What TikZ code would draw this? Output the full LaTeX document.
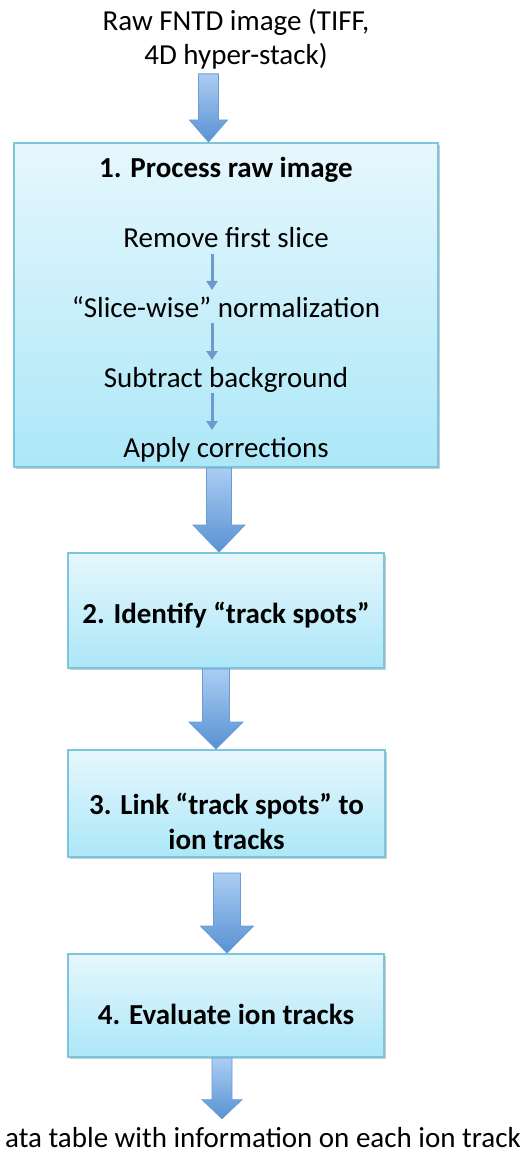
\documentclass[tikz,border=0pt]{standalone}
\usepackage{fontspec}
\setmainfont{Carlito}
\usetikzlibrary{arrows.meta,calc,shadows}

\definecolor{boxtop}{HTML}{E6F7FD}
\definecolor{boxbot}{HTML}{ACE7F8}
\definecolor{boxline}{HTML}{7CC6DB}
\definecolor{arrowtop}{HTML}{ABCDF3}
\definecolor{arrowbot}{HTML}{5892D3}
\definecolor{arrowline}{HTML}{6A9BD5}
\definecolor{smallblue}{HTML}{6E99CC}

\newcommand{\fatarrow}[5]{%
\shade[top color=arrowtop,bottom color=arrowbot,draw=arrowline,line width=.8pt]
let \p1=(#1),\p2=(#2) in
(\x1-#3,\y1) -- (\x1+#3,\y1) -- (\x1+#3,\y2+#5) -- (\x1+#4,\y2+#5) -- (\x1,\y2)
-- (\x1-#4,\y2+#5) -- (\x1-#3,\y2+#5) -- cycle;}

\begin{document}
\begin{tikzpicture}[x=1pt,y=-1pt,
every node/.style={font=\fontsize{29}{34}\selectfont,inner sep=0pt},
bold/.style={font=\fontsize{29}{35}\selectfont\bfseries},
stepbox/.style={draw=boxline,line width=2pt,top color=boxtop,bottom color=boxbot,
drop shadow={shadow xshift=1.5pt,shadow yshift=-2pt,opacity=.2,fill=black}},
thin arrow/.style={draw=smallblue,line width=3pt,-{Triangle[width=11pt,length=9pt]}}]
\useasboundingbox (0,0) rectangle (524,1155);

\node[anchor=base,align=center] (T) at (236,65) {Raw FNTD image (TIFF,\\4D hyper-stack)};

\node[stepbox,minimum width=424pt,minimum height=324pt] (B1) at (226,305) {};
\node[stepbox,minimum width=316pt,minimum height=115pt] (B2) at (226,610.5) {};
\node[stepbox,minimum width=317pt,minimum height=107pt] (B3) at (226.5,803.5) {};
\node[stepbox,minimum width=316pt,minimum height=103pt] (B4) at (226,1005.5) {};

\node[bold,anchor=base] (h1) at (226,178) {1. Process raw image};
\node[anchor=base] (r1) at (226,248) {Remove first slice};
\node[anchor=base] (r2) at (226,317) {“Slice-wise” normalization};
\node[anchor=base] (r3) at (226,387) {Subtract background};
\node[anchor=base] (r4) at (226,457) {Apply corrections};
\node[bold,anchor=base] (t2) at (226,623) {2. Identify “track spots”};
\node[bold,anchor=base,align=center] (t3) at (226.5,849) {3. Link “track spots” to\\ion tracks};
\node[bold,anchor=base] (t4) at (226,1024) {4. Evaluate ion tracks};
\node[anchor=base east] (D) at (521,1147) {ata table with information on each ion track};

\foreach \a/\b in {r1/r2,r2/r3,r3/r4}
\draw[thin arrow] ([xshift=-14pt,yshift=-6pt]\a.base) -- ([xshift=-14pt,yshift=27pt]\b.base);

\fatarrow{$(T.south)+(-27.5,4)$}{B1.north}{10pt}{19pt}{22pt}
\fatarrow{$(B1.south)+(-7,0)$}{B2.north}{12.5pt}{26pt}{27pt}
\fatarrow{$(B2.south)+(-10,0)$}{B3.north}{13.5pt}{27pt}{27pt}
\fatarrow{$(B3.south)+(0.5,15)$}{B4.north}{13.5pt}{26.5pt}{27pt}
\fatarrow{$(B4.south)+(-4,0)$}{$(D.north)+(0,-8)$}{10pt}{20pt}{19pt}
\end{tikzpicture}
\end{document}
